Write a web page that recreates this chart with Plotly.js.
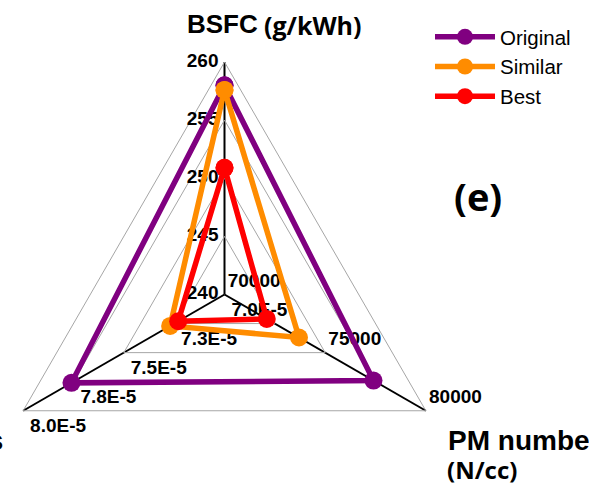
<!DOCTYPE html>
<html>
<head>
<meta charset="utf-8">
<script src="https://cdn.plot.ly/plotly-3.0.1.min.js"></script>
<style>
html,body{margin:0;padding:0;overflow:hidden;background:#fff;}
#chart{position:absolute;left:-8px;top:0;width:600px;height:540px;}
</style>
</head>
<body>
<div id="chart"></div>
<script>
// ---- data ----
const axesNames = ['BSFC', 'PM number', 'PM mass'];
const bsfcRange = [240, 260];
const pmnRange = [70000, 80000];
const pmmRange = [7.0e-5, 8.0e-5];

const seriesNames = ['Original', 'Similar', 'Best'];
const bsfcValues = [258.0, 257.6, 250.9];
const pmnValues = [77400, 73700, 72100];
const pmmValues = [7.76e-5, 7.27e-5, 7.23e-5];
const seriesColors = ['#800080', '#FF8C00', '#FF0000'];

const bsfcTicks = [240, 245, 250, 255, 260];
const bsfcTickText = ['240', '245', '250', '255', '260'];
const pmnTicks = [70000, 75000, 80000];
const pmnTickText = ['70000', '75000', '80000'];
const pmmTicks = [7.0e-5, 7.25e-5, 7.5e-5, 7.75e-5, 8.0e-5];
const pmmTickText = ['7.0E-5', '7.3E-5', '7.5E-5', '7.8E-5', '8.0E-5'];

// ---- helpers ----
function norm(v, rng) { return (v - rng[0]) / (rng[1] - rng[0]); }
const OFFX = -8, TOP = 62, SIZE = 465;
function px(x) { return (x - OFFX) / SIZE; }
function py(y) { return (TOP + SIZE - y) / SIZE; }

const tickFont = {family: 'Liberation Sans, Arial, sans-serif', size: 19, color: '#000', weight: 'bold'};

// label trace for one axis. Plotly hides points lying exactly on the centre of a
// linear-grid polar plot, so the centre label is kept a hair (1e-4) off the centre.
function labelTrace(ticks, texts, rng, axis, pos, pad) {
  return {
    type: 'scatterpolar', mode: 'markers+text', showlegend: false, hoverinfo: 'skip',
    cliponaxis: false,
    r: ticks.map(v => Math.max(norm(v, rng), 1e-4)), theta: ticks.map(() => axis),
    text: texts, textposition: pos, textfont: tickFont,
    marker: {size: pad, opacity: 0, color: '#000'}
  };
}

const traces = [
  labelTrace(bsfcTicks, bsfcTickText, bsfcRange, axesNames[0], 'middle left', 8),
  labelTrace(pmnTicks, pmnTickText, pmnRange, axesNames[1], 'top right', 3.5),
  labelTrace(pmmTicks, pmmTickText, pmmRange, axesNames[2], 'bottom right', 9.5)
];

seriesNames.forEach((name, i) => {
  const r = [norm(bsfcValues[i], bsfcRange), norm(pmnValues[i], pmnRange), norm(pmmValues[i], pmmRange)];
  traces.push({
    type: 'scatterpolar', mode: 'lines+markers', name: name, cliponaxis: false,
    r: r.concat([r[0]]), theta: axesNames.concat([axesNames[0]]),
    line: {color: seriesColors[i], width: 5.5},
    marker: {color: seriesColors[i], size: 18}
  });
});

const layout = {
  width: 600, height: 540,
  margin: {l: 0, r: 600 - SIZE, t: TOP, b: 540 - TOP - SIZE},
  paper_bgcolor: '#fff',
  showlegend: true,
  legend: {
    x: px(430), y: py(17), xanchor: 'left', yanchor: 'top',
    font: {family: 'Liberation Sans, Arial, sans-serif', size: 20.5, color: '#000'},
    itemwidth: 60, bgcolor: 'rgba(0,0,0,0)'
  },
  polar: {
    domain: {x: [0, 1], y: [0, 1]},
    bgcolor: 'rgba(0,0,0,0)',
    gridshape: 'linear',
    radialaxis: {
      range: [0, 1], tickvals: [0.25, 0.5, 0.75, 1], showticklabels: false, ticks: '',
      showline: false, gridcolor: '#A6A6A6', gridwidth: 1, layer: 'below traces'
    },
    angularaxis: {
      type: 'category', categoryarray: axesNames, rotation: 90, direction: 'clockwise',
      showticklabels: false, ticks: '', showline: true, linecolor: '#A6A6A6', linewidth: 1,
      gridcolor: '#000', gridwidth: 2, layer: 'below traces'
    }
  },
  annotations: [
    {text: 'BSFC', xref: 'paper', yref: 'paper', x: px(185), y: py(24), xanchor: 'left', yanchor: 'middle', showarrow: false,
     font: {family: 'Liberation Sans, Arial, sans-serif', size: 26, color: '#000', weight: 'bold'}},
    {text: '(g/kWh)', xref: 'paper', yref: 'paper', x: px(262), y: py(25), xanchor: 'left', yanchor: 'middle', showarrow: false,
     font: {family: 'Open Sans, sans-serif', size: 25, color: '#000', weight: 'bold'}},
    {text: '(e)', xref: 'paper', yref: 'paper', x: px(478), y: py(196), xanchor: 'center', yanchor: 'middle', showarrow: false,
     font: {family: 'Open Sans, sans-serif', size: 38, color: '#000', weight: 'bold'}},
    {text: 'PM number', xref: 'paper', yref: 'paper', x: px(446), y: py(440), xanchor: 'left', yanchor: 'middle', showarrow: false,
     font: {family: 'Liberation Sans, Arial, sans-serif', size: 28, color: '#000', weight: 'bold'}},
    {text: '(N/cc)', xref: 'paper', yref: 'paper', x: px(445), y: py(469), xanchor: 'left', yanchor: 'middle', showarrow: false,
     font: {family: 'Open Sans, sans-serif', size: 24, color: '#000', weight: 'bold'}},
    {text: 'PM mass', xref: 'paper', yref: 'paper', x: px(5), y: py(440), xanchor: 'right', yanchor: 'middle', showarrow: false,
     font: {family: 'Liberation Sans, Arial, sans-serif', size: 28, color: '#000', weight: 'bold'}}
  ]
};

Plotly.newPlot('chart', traces, layout, {displayModeBar: false, responsive: false});
</script>
</body>
</html>
